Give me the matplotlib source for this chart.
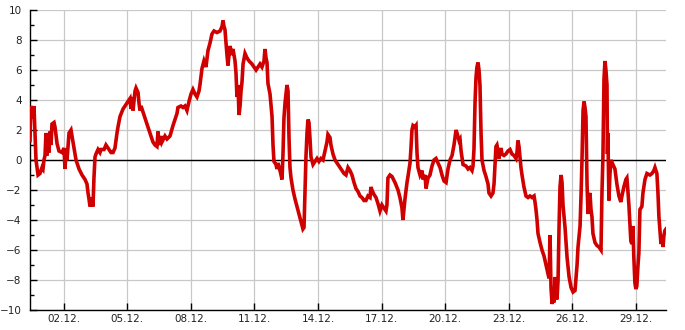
import numpy as np
import pandas as pd
import matplotlib
matplotlib.use('Agg')
import matplotlib.pyplot as plt
import matplotlib.dates as mdates
from matplotlib.ticker import MultipleLocator

# readings: hours after the first sample, temperature in degC
start = pd.Timestamp('2023-11-30 10:00')
hours = [0.0, 1.1, 3.4, 4.5, 5.7, 6.8, 7.9, 9.1, 11.3, 13.6, 14.7, 15.8, 17.0, 18.1, 19.2, 20.4,
         21.5, 22.6, 23.8, 24.9, 27.2, 28.3, 30.6, 32.8, 36.2, 38.5, 39.6, 40.8, 41.9, 43.0, 44.2,
         46.4, 48.7, 49.8, 52.1, 55.5, 58.9, 62.3, 64.5, 65.7, 66.8, 67.9, 70.2, 71.3, 72.4, 73.6,
         74.7, 77.0, 79.2, 80.4, 83.8, 86.0, 88.3, 91.7, 94.0, 96.2, 98.5, 99.6, 101.9, 105.3,
         108.7, 110.9, 113.2, 114.3, 115.5, 116.6, 118.9, 120.0, 122.3, 123.4, 124.5, 125.7,
         127.9, 130.2, 132.4, 135.8, 139.2, 141.5, 143.7, 144.9, 146.0, 148.3, 149.4, 152.8,
         155.1, 158.5, 161.9, 164.1, 166.4, 167.5, 170.9, 173.2, 175.4, 177.7, 180.0, 182.3,
         184.5, 186.8, 189.0, 191.3, 192.4, 194.7, 196.9, 199.2, 201.5, 203.8, 206.0, 208.3,
         211.7, 215.1, 217.4, 218.5, 219.6, 220.7, 221.9, 223.0, 224.1, 225.3, 226.4, 228.6,
         229.8, 232.1, 233.2, 234.3, 235.5, 236.6, 237.8, 238.9, 240.0, 241.2, 243.4, 245.7,
         248.0, 251.3, 253.6, 255.9, 258.1, 260.4, 262.6, 264.9, 266.0, 267.2, 268.3, 269.4,
         271.7, 274.0, 275.1, 276.2, 278.5, 279.6, 280.7, 283.0, 285.3, 286.4, 287.5, 288.7,
         290.9, 292.1, 293.2, 294.3, 295.5, 297.7, 300.0, 302.2, 304.5, 306.8, 309.0, 310.2,
         311.3, 312.4, 313.6, 314.7, 315.8, 317.0, 318.1, 320.4, 322.6, 324.9, 327.1, 329.4,
         331.7, 333.9, 336.2, 337.3, 339.6, 340.7, 343.0, 345.3, 348.7, 352.1, 355.5, 357.7,
         360.0, 362.2, 364.5, 366.8, 369.0, 371.3, 373.6, 375.8, 378.1, 380.3, 382.6, 384.9,
         386.0, 387.1, 389.4, 391.7, 393.9, 396.2, 398.4, 400.7, 403.0, 404.1, 405.2, 407.5,
         409.8, 413.2, 416.6, 418.8, 421.1, 422.2, 424.5, 426.8, 427.9, 430.2, 431.3, 432.4,
         433.6, 435.8, 437.0, 438.1, 439.2, 441.5, 443.8, 444.9, 447.2, 448.3, 450.6, 452.8,
         455.1, 457.4, 459.6, 461.9, 464.2, 466.4, 468.7, 471.0, 473.2, 475.5, 477.8, 480.0,
         482.3, 483.4, 485.7, 486.8, 488.0, 490.2, 493.6, 495.9, 498.1, 500.4, 501.5, 502.6,
         503.8, 504.9, 506.0, 507.2, 508.3, 509.4, 510.6, 511.7, 514.0, 516.2, 518.5, 519.6,
         521.9, 524.1, 525.3, 526.4, 527.5, 528.6, 529.8, 530.9, 533.2, 534.3, 536.6, 538.8,
         541.1, 543.4, 545.6, 547.9, 550.2, 551.3, 552.4, 553.6, 554.7, 555.8, 557.0, 559.2,
         561.5, 563.8, 566.0, 568.3, 570.6, 571.7, 572.8, 574.0, 575.1, 577.4, 579.6, 581.9,
         584.2, 586.4, 587.6, 588.7, 589.8, 591.0, 592.1, 593.2, 594.4, 595.5, 596.6, 597.8,
         598.9, 600.0, 601.2, 602.3, 603.4, 605.7, 608.0, 610.3, 612.5, 614.8, 617.0, 619.3,
         620.4, 622.7, 623.8, 624.9, 626.1, 627.2, 628.3, 629.4, 630.6, 631.7, 632.8, 633.9,
         635.1, 636.2, 637.3, 639.6, 641.8, 644.1, 646.4, 647.5, 648.6, 649.8, 650.9, 652.0,
         653.2, 653.7, 654.2, 655.4, 656.5, 657.6, 659.9, 662.2, 664.4, 666.7, 668.9, 670.1,
         672.3, 674.6, 675.7, 676.8, 678.0, 679.1, 680.2, 681.4, 682.5, 683.6, 684.8, 685.9,
         687.0, 688.2, 689.3, 690.5, 692.7, 693.9, 696.2, 698.4, 701.8, 704.1, 706.3, 707.5,
         709.7, 710.9, 712.0, 714.3, 715.4, 716.6, 717.7, 718.8, 720.0]
temps = [1.3, 3.6, 2.8, 3.6, 1.8, 0.0, -0.5, -1.0, -0.9, -0.5, -0.6, 0.0, 0.3, 1.8, 0.3, 1.8,
         0.5, 1.9, 1.0, 2.4, 2.5, 2.2, 1.1, 0.6, 0.5, 0.8, -0.6, 0.6, 0.0, 0.9, 1.8,
         2.0, 1.2, 0.8, 0.0, -0.6, -1.0, -1.3, -1.6, -2.2, -2.6, -3.1, -2.5, -3.1, -1.2, 0.2,
         0.4, 0.7, 0.5, 0.7, 0.7, 1.0, 0.8, 0.5, 0.5, 0.8, 1.8, 2.2, 2.9, 3.4,
         3.7, 3.9, 4.1, 3.4, 4.2, 3.3, 4.6, 4.8, 4.5, 3.8, 3.3, 3.6,
         3.2, 2.8, 2.4, 1.8, 1.2, 1.0, 0.9, 1.9, 1.0, 1.6, 1.2, 1.6,
         1.4, 1.6, 2.3, 2.7, 3.1, 3.5, 3.6, 3.5, 3.6, 3.3, 3.9, 4.4,
         4.7, 4.4, 4.2, 4.6, 5.0, 6.1, 6.6, 6.2, 7.3, 7.8, 8.4, 8.6,
         8.5, 8.6, 8.9, 9.3, 8.9, 8.7, 7.8, 7.0, 6.3, 7.0, 7.6, 7.0,
         7.4, 6.6, 5.8, 4.2, 5.0, 3.0, 3.6, 4.6, 5.2, 6.4, 7.1, 6.8,
         6.6, 6.4, 6.2, 6.0, 6.2, 6.4, 6.2, 6.6, 7.4, 6.8, 6.5, 5.1,
         4.4, 2.9, 1.0, -0.1, -0.3, -0.6, -0.2, -0.7, -1.3, 0.4, 2.8, 3.8,
         5.0, 4.6, 1.5, -0.5, -1.2, -2.0, -2.6, -3.1, -3.6, -4.1, -4.6, -4.5,
         -2.2, 0.2, 1.8, 2.7, 2.5, 1.4, 0.2, -0.3, -0.1, 0.1, -0.1, 0.1,
         0.0, 0.6, 1.2, 1.7, 1.5, 1.0, 0.4, 0.0, -0.3, -0.6, -0.9, -1.0,
         -0.5, -0.7, -1.0, -1.5, -1.9, -2.1, -2.4, -2.5, -2.7, -2.7, -2.4, -2.5,
         -1.8, -2.0, -2.3, -2.5, -2.9, -3.4, -3.0, -3.2, -3.4, -3.0, -1.2, -1.0,
         -1.1, -1.5, -2.0, -2.5, -3.2, -4.0, -2.6, -1.5, -1.1, -0.2, 0.8, 2.0,
         2.3, 2.2, 2.3, 0.5, -0.5, -1.0, -0.7, -1.3, -1.0, -1.9, -1.2, -1.0,
         -0.4, 0.0, 0.1, -0.2, -0.5, -1.0, -1.4, -1.5, -0.6, 0.0, 0.3, 1.0,
         2.0, 1.8, 1.3, 1.4, 0.6, -0.3, -0.4, -0.6, -0.5, -0.7, -0.4, 0.7,
         3.8, 5.5, 6.2, 6.5, 6.0, 5.0, 1.8, 0.0, -0.7, -1.1, -1.6, -2.2,
         -2.4, -2.2, -1.6, -0.4, 0.9, 1.0, 0.6, 0.1, 0.8, 0.4, 0.3, 0.4,
         0.6, 0.7, 0.4, 0.3, 0.1, 0.5, 1.3, 0.9, 0.2, -0.5, -1.0, -1.8,
         -2.4, -2.5, -2.4, -2.5, -2.4, -2.8, -3.3, -4.0, -4.9, -5.5, -6.0, -6.4,
         -7.0, -7.6, -7.9, -5.0, -8.5, -9.6, -9.2, -9.5, -7.8, -9.0, -9.3, -8.0,
         -4.5, -1.8, -1.0, -1.5, -3.0, -4.5, -6.5, -7.8, -8.5, -8.8, -8.7, -7.0,
         -5.8, -4.4, -2.4, 0.0, 3.3, 3.9, 3.5, 2.9, -1.6, -3.6, -2.4, -2.2,
         -3.3, -3.8, -4.9, -5.5, -5.7, -5.8, -6.0, -2.2, 0.2, 5.4, 6.6, 6.0,
         5.0, 0.4, 1.8, -2.7, -1.0, 0.0, -0.3, -0.6, -1.6, -2.4, -2.8, -2.4,
         -1.8, -1.3, -1.2, -2.0, -3.0, -4.2, -5.4, -5.6, -4.4, -6.5, -8.2, -8.6,
         -8.4, -7.1, -6.2, -3.3, -3.1, -2.2, -1.3, -0.9, -1.0, -0.9, -0.7, -0.5,
         -0.9, -2.2, -3.8, -5.6, -5.1, -5.8, -5.0, -4.7, -4.6]

times = start + pd.to_timedelta(hours, unit='h')
tick_days = [2, 5, 8, 11, 14, 17, 20, 23, 26, 29]

fig = plt.figure(figsize=(6.85, 3.3), dpi=100)
ax = fig.add_axes([30/685, 20/330, 636/685, 300/330])

ax.plot(times, temps, color='#d00000', lw=2.6, solid_joinstyle='miter', zorder=3)
ax.axhline(0, color='black', lw=1.0, zorder=2)

ax.set_xlim(start, start + pd.Timedelta(hours=720))
ax.set_ylim(-10, 10)
ax.xaxis.set_major_locator(mdates.DayLocator(bymonthday=tick_days))
ax.xaxis.set_major_formatter(mdates.DateFormatter('%d.%m.'))
ax.yaxis.set_major_locator(MultipleLocator(2))
ax.yaxis.set_minor_locator(MultipleLocator(1))

ax.grid(True, which='major', color='#c8c8c8', lw=0.9, zorder=0)
ax.set_axisbelow(True)
for s in ['top', 'right']:
    ax.spines[s].set_visible(False)
for s in ['left', 'bottom']:
    ax.spines[s].set_linewidth(1.0)
ax.tick_params(axis='both', which='major', direction='in', length=5, width=1,
               labelsize=7.5, labelcolor='#222222')
ax.tick_params(axis='y', which='minor', direction='in', length=3, width=1)
ax.tick_params(axis='y', which='major', pad=6)
ax.tick_params(axis='x', which='major', pad=3)

fig.savefig('out.png', dpi=100)
